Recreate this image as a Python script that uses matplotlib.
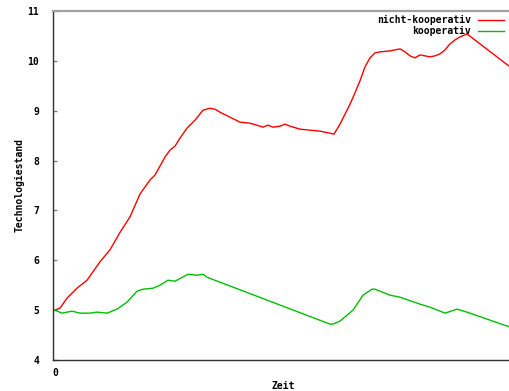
import matplotlib
matplotlib.use("Agg")
import matplotlib.pyplot as plt

# Zeitachse und Technologiestand, nicht-kooperatives Szenario
zeit_nk = [0, 5, 12, 22, 32, 45, 55, 65, 75, 85, 95, 100, 105, 110, 115, 120, 125,
           132, 140, 148, 155, 160, 165, 175, 185, 195, 205, 208, 213, 218, 225, 230,
           235, 245, 255, 265, 275, 279, 285, 290, 295, 300, 305, 310, 315, 320, 325,
           335, 345, 350, 355, 360, 365, 370, 375, 380, 385, 390, 395, 400, 405, 412, 455]
wert_nk = [5.00, 5.04, 5.24, 5.44, 5.60, 5.97, 6.21, 6.56, 6.87, 7.33, 7.61, 7.71, 7.89,
           8.07, 8.21, 8.29, 8.45, 8.65, 8.81, 9.01, 9.05, 9.03, 8.97, 8.87, 8.77, 8.75,
           8.69, 8.67, 8.71, 8.67, 8.69, 8.73, 8.69, 8.63, 8.61, 8.59, 8.55, 8.53, 8.73,
           8.93, 9.13, 9.36, 9.60, 9.88, 10.06, 10.16, 10.18, 10.20, 10.24, 10.18, 10.10,
           10.06, 10.12, 10.10, 10.08, 10.10, 10.14, 10.22, 10.34, 10.42, 10.48, 10.54, 9.88]

# Technologiestand, kooperatives Szenario
zeit_k = [0, 7, 12, 17, 25, 35, 42, 52, 62, 72, 82, 88, 98, 105, 113, 120, 133, 142,
          148, 152, 275, 278, 285, 298, 308, 317, 320, 335, 345, 365, 375, 390, 402, 412, 455]
wert_k = [5.00, 4.94, 4.96, 4.98, 4.94, 4.94, 4.96, 4.94, 5.02, 5.16, 5.38, 5.42, 5.44,
          5.50, 5.60, 5.58, 5.72, 5.70, 5.72, 5.66, 4.72, 4.72, 4.78, 5.00, 5.30, 5.42,
          5.42, 5.30, 5.26, 5.12, 5.06, 4.94, 5.02, 4.96, 4.66]

y_ticks = [4, 5, 6, 7, 8, 9, 10, 11]
x_ticks = [0]

W, H = 510, 391
fig = plt.figure(figsize=(W / 100, H / 100), dpi=100)
ax = fig.add_axes([53 / W, (H - 360) / H, (W - 53) / W, (360 - 11) / H])

ax.plot(zeit_nk, wert_nk, color="#ff0000", lw=1.0, label="nicht-kooperativ")
ax.plot(zeit_k, wert_k, color="#00c000", lw=1.0, label="kooperativ")

ax.set_xlim(-2, 455)
ax.set_ylim(4, 11)
ax.set_yticks(y_ticks)
ax.set_xticks(x_ticks)

mono = dict(family="DejaVu Sans Mono", weight="bold", size=7)
ax.set_yticklabels([str(v) for v in y_ticks], fontdict=mono)
ax.set_xticklabels([str(v) for v in x_ticks], fontdict=mono)
ax.tick_params(axis="y", direction="in", length=3, width=1, color="#808080", pad=10)
ax.tick_params(axis="x", direction="in", length=0, pad=6)

ax.spines["right"].set_visible(False)
ax.spines["top"].set_color("#a0a0a0")
ax.spines["top"].set_linewidth(1.6)
ax.spines["left"].set_color("#303030")
ax.spines["bottom"].set_color("#303030")
ax.spines["left"].set_linewidth(1.0)
ax.spines["bottom"].set_linewidth(1.0)

fig.text(283 / W, 1 - 386 / H, "Zeit", ha="center", va="center", **mono)
fig.text(20 / W, 1 - 185 / H, "Technologiestand", ha="center", va="center",
         rotation=90, **mono)

leg = ax.legend(loc="upper right", bbox_to_anchor=(504 / W, 1 - 15 / H),
                bbox_transform=fig.transFigure, frameon=False, markerfirst=False,
                prop=dict(family="DejaVu Sans Mono", weight="bold", size=7),
                handlelength=2.7, handletextpad=0.7, labelspacing=0.14,
                borderpad=0, borderaxespad=0)

fig.savefig("out.png", dpi=100)
